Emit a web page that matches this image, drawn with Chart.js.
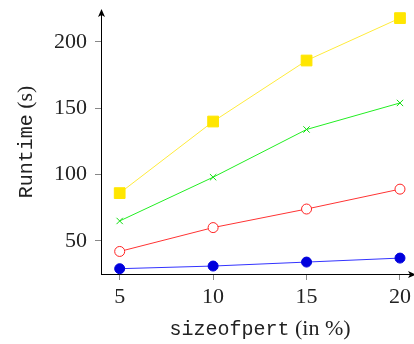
<!DOCTYPE html>
<html>
<head>
<meta charset="utf-8">
<script src="https://cdn.jsdelivr.net/npm/chart.js@4/dist/chart.umd.min.js"></script>
<style>
    html, body { margin: 0; padding: 0; background: #fff; }
    #wrap { width: 414px; height: 344px; position: relative; }
</style>
</head>
<body>
<div id="wrap"><canvas id="runtime-chart"></canvas></div>
<script>
const sizes = [5, 10, 15, 20];
const xTicks = [5, 10, 15, 20];
const yTicks = [50, 100, 150, 200];
const yellowRuntime = [86, 140, 186, 218];
const greenRuntime = [65, 98, 134, 154];
const redRuntime = [42, 60, 74, 89];
const blueRuntime = [29, 31, 34, 37];

const serif = "'Liberation Serif', 'DejaVu Serif', serif";
const mono = "'Liberation Mono', 'DejaVu Sans Mono', monospace";

const toPoints = function (values) {
    return sizes.map((x, i) => ({x: x, y: values[i]}));
};

const noScalePadding = function (scale) {
    scale.paddingTop = 0;
    scale.paddingBottom = 0;
    scale.paddingLeft = 0;
    scale.paddingRight = 0;
};

// axis arrows + mixed-font axis titles (typewriter + roman)
const axisDecor = {
    id: "axisDecor",
    afterDraw(chart) {
        const ctx = chart.ctx;
        const area = chart.chartArea;
        ctx.save();
        ctx.strokeStyle = "#000";
        ctx.fillStyle = "#000";
        ctx.lineWidth = 1;

        // y axis extension + arrow
        ctx.beginPath();
        ctx.moveTo(area.left + 0.5, area.top);
        ctx.lineTo(area.left + 0.5, area.top - 2);
        ctx.stroke();
        ctx.beginPath();
        ctx.moveTo(area.left + 0.5, area.top - 3);
        ctx.lineTo(area.left - 3, area.top + 5);
        ctx.lineTo(area.left + 0.5, area.top + 3);
        ctx.lineTo(area.left + 4, area.top + 5);
        ctx.closePath();
        ctx.fill();

        // x axis arrow (partly off canvas)
        ctx.beginPath();
        ctx.moveTo(area.right + 2, area.bottom + 0.5);
        ctx.lineTo(area.right - 6, area.bottom - 3);
        ctx.lineTo(area.right - 4, area.bottom + 0.5);
        ctx.lineTo(area.right - 6, area.bottom + 4);
        ctx.closePath();
        ctx.fill();

        ctx.fillStyle = "#222";
        ctx.textBaseline = "alphabetic";

        // x title
        const xA = "sizeofpert", xB = " (in %)";
        ctx.font = "20px " + mono;
        const wA = ctx.measureText(xA).width;
        ctx.font = "22px " + serif;
        const wB = ctx.measureText(xB).width;
        let sx = 260 - (wA + wB) / 2;
        ctx.font = "20px " + mono;
        ctx.fillText(xA, sx, 335);
        ctx.font = "22px " + serif;
        ctx.fillText(xB, sx + wA, 335);

        // y title
        const yA = "Runtime", yB = " (s)";
        ctx.font = "20px " + mono;
        const hA = ctx.measureText(yA).width;
        ctx.font = "22px " + serif;
        const hB = ctx.measureText(yB).width;
        ctx.translate(32, 142);
        ctx.rotate(-Math.PI / 2);
        const sy = -(hA + hB) / 2;
        ctx.font = "20px " + mono;
        ctx.fillText(yA, sy, 0);
        ctx.font = "22px " + serif;
        ctx.fillText(yB, sy + hA, 0);

        ctx.restore();
    }
};

const runtimeChart = new Chart(document.getElementById("runtime-chart").getContext("2d"), {
    type: "line",
    plugins: [axisDecor],
    data: {
        datasets: [
            {
                label: "yellow",
                data: toPoints(yellowRuntime),
                borderColor: "#FFEB3B",
                backgroundColor: "#FFE600",
                pointBackgroundColor: "#FFE600",
                pointBorderColor: "#FFE600",
                pointStyle: "rect",
                pointRadius: 7.6,
                borderWidth: 1
            },
            {
                label: "green",
                data: toPoints(greenRuntime),
                borderColor: "#22EE22",
                pointBorderColor: "#11DD11",
                pointStyle: "crossRot",
                pointRadius: 4.5,
                pointBorderWidth: 1,
                borderWidth: 1
            },
            {
                label: "red",
                data: toPoints(redRuntime),
                borderColor: "#FF3333",
                pointBorderColor: "#FF2222",
                pointBackgroundColor: "#fff",
                pointStyle: "circle",
                pointRadius: 5,
                pointBorderWidth: 1,
                borderWidth: 1
            },
            {
                label: "blue",
                data: toPoints(blueRuntime),
                borderColor: "#3333FF",
                backgroundColor: "#0000DD",
                pointBackgroundColor: "#0000DD",
                pointBorderColor: "#0000DD",
                pointStyle: "circle",
                pointRadius: 5,
                borderWidth: 1
            }
        ]
    },
    options: {
        responsive: true,
        maintainAspectRatio: false,
        animation: false,
        clip: false,
        layout: {autoPadding: false, padding: {top: 12, right: 0, left: 0, bottom: 0}},
        plugins: {
            legend: {display: false},
            tooltip: {enabled: false}
        },
        scales: {
            x: {
                type: "linear",
                min: 4,
                max: 20.75,
                afterBuildTicks: scale => { scale.ticks = xTicks.map(v => ({value: v})); },
                afterFit: scale => { scale.height = 70; noScalePadding(scale); },
                grid: {drawOnChartArea: false, drawTicks: true, tickLength: 6, color: "#888"},
                border: {display: true, color: "#000", width: 1},
                ticks: {
                    color: "#222",
                    padding: 4,
                    maxRotation: 0,
                    font: {family: serif, size: 22}
                }
            },
            y: {
                type: "linear",
                min: 25,
                max: 222.6,
                afterBuildTicks: scale => { scale.ticks = yTicks.map(v => ({value: v})); },
                afterFit: scale => { scale.width = 101; noScalePadding(scale); },
                grid: {drawOnChartArea: false, drawTicks: true, tickLength: 6, color: "#888"},
                border: {display: true, color: "#000", width: 1},
                ticks: {
                    color: "#222",
                    padding: 8,
                    font: {family: serif, size: 22}
                }
            }
        }
    }
});
</script>
</body>
</html>
